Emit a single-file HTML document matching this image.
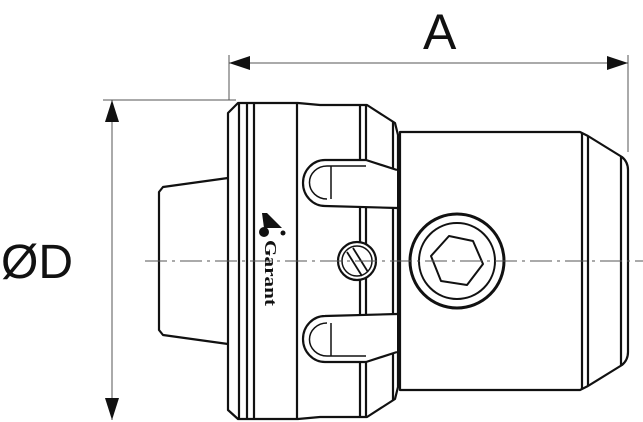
<!DOCTYPE html>
<html><head><meta charset="utf-8"><style>
html,body{margin:0;padding:0;background:#fff}
svg{display:block}
</style></head><body>
<svg width="643" height="422" viewBox="0 0 643 422" xmlns="http://www.w3.org/2000/svg">
<g stroke="#555" stroke-width="1" fill="none">
  <line x1="103" y1="100" x2="236" y2="100"/>
  <line x1="229" y1="55" x2="229" y2="100"/>
  <line x1="628" y1="55" x2="628" y2="152"/>
  <line x1="112" y1="100" x2="112" y2="420"/>
  <line x1="229" y1="63" x2="628" y2="63"/>
</g>
<g fill="#111">
  <polygon points="229,63 250,56 250,70"/>
  <polygon points="628,63 607,56 607,70"/>
  <polygon points="112,100 105,122 119,122"/>
  <polygon points="112,420 105,398 119,398"/>
</g>
<text x="423" y="49" font-family="Liberation Sans, sans-serif" font-size="50" fill="#111">A</text>
<text x="1" y="278" font-family="Liberation Sans, sans-serif" font-size="48" fill="#111">ØD</text>
<g stroke="#111" stroke-width="2.2" fill="#fff" stroke-linejoin="round">
  <path d="M228,178 L163,187 L159,192 L159,330 L163,335 L228,344"/>
  <path d="M400,132 L580,132 L588,136 L622,157 Q628,162 628,170 L628,352 Q628,360 622,365 L588,386 L580,390 L400,390 Z"/>
  <line x1="582" y1="133" x2="582" y2="389"/>
  <line x1="588" y1="136" x2="588" y2="386"/>
  <line x1="621" y1="157" x2="621" y2="365"/>
  <path d="M238,103 L298,103 L320,105 L367,105 L395,123 L398,135 L398,387 L395,399 L367,417 L320,417 L298,419 L238,419 L228,410 L228,113 Z"/>
  <line x1="239" y1="104" x2="239" y2="418"/>
  <line x1="247" y1="104" x2="247" y2="418"/>
  <line x1="254" y1="104" x2="254" y2="418"/>
  <line x1="297" y1="104" x2="297" y2="418"/>
  <line x1="360" y1="105" x2="360" y2="417"/>
  <line x1="366" y1="105" x2="366" y2="417"/>
  <line x1="393" y1="122" x2="393" y2="400"/>
  <path d="M397,170 L366,160 L325,160 A22,23 0 0 0 325,206 L397,208"/>
  <path d="M366,166 L327,166 A17,16 0 0 0 327,199" fill="none" stroke-width="1.5"/>
  <line x1="331" y1="166" x2="331" y2="199" stroke-width="1.5"/>
  <path d="M397,352 L366,362 L325,362 A22,23 0 0 1 325,316 L397,314"/>
  <path d="M366,356 L327,356 A17,16 0 0 1 327,323" fill="none" stroke-width="1.5"/>
  <line x1="331" y1="323" x2="331" y2="356" stroke-width="1.5"/>
  <circle cx="357" cy="261" r="19"/>
  <circle cx="357" cy="261" r="15" stroke-width="1.5"/>
  <line x1="347" y1="252" x2="362" y2="276" stroke-width="1.8"/>
  <line x1="353" y1="248" x2="368" y2="272" stroke-width="1.8"/>
  <circle cx="457" cy="261" r="47" stroke-width="3"/>
  <circle cx="457" cy="261" r="38" stroke-width="2"/>
  <polygon points="449,236 473,241 483,264 467,285 441,281 431,256" stroke-width="2"/>
</g>
<line x1="145" y1="261" x2="643" y2="261" stroke="#555" stroke-width="1" stroke-dasharray="22,5,3,5"/>
<g fill="#111">
  <polygon points="262,213 267,213 282,228 264,228"/>
  <circle cx="264" cy="232" r="5"/>
  <circle cx="283" cy="233" r="2.5"/>
  <text transform="translate(265,240) rotate(90)" font-family="Liberation Serif, serif" font-weight="bold" font-size="17" textLength="66" lengthAdjust="spacingAndGlyphs">Garant</text>
</g>
</svg>
</body></html>
